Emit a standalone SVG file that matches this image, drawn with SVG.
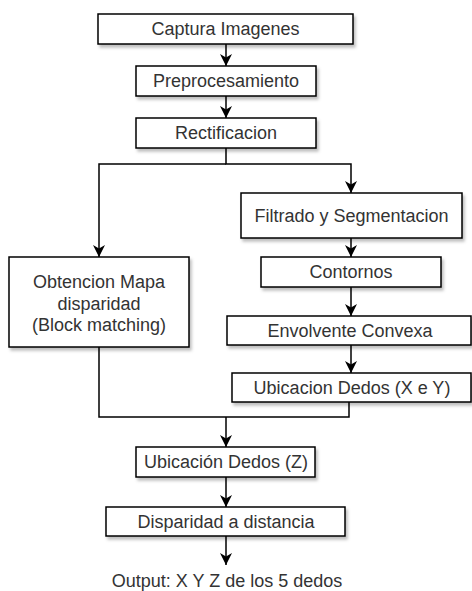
<svg xmlns="http://www.w3.org/2000/svg" width="472" height="591" viewBox="0 0 472 591">
<style>
.box{fill:#fff;stroke:#000;stroke-width:1.5;filter:url(#sh)}
.t{font-family:"Liberation Sans",Arial,sans-serif;font-size:18px;fill:#333;text-anchor:middle}
.c{fill:none;stroke:#000;stroke-width:1.5}
</style>
<defs>
<filter id="sh" x="-10%" y="-20%" width="130%" height="160%">
<feDropShadow dx="2" dy="3" stdDeviation="1.5" flood-color="#000" flood-opacity="0.25"/>
</filter>
<marker id="a" viewBox="0 0 12 12" refX="12" refY="6" markerWidth="12" markerHeight="12" markerUnits="userSpaceOnUse" orient="auto">
<path d="M0,0 L12,6 L0,12 L3.5,6 z" fill="#000"/>
</marker>
</defs>
<rect width="472" height="591" fill="#fff"/>
<g id="connectors">
<path class="c" d="M226,44 V66" marker-end="url(#a)"/>
<path class="c" d="M226,96 V118" marker-end="url(#a)"/>
<path class="c" d="M226,148 V164 H351 V193" marker-end="url(#a)"/>
<path class="c" d="M226,164 H99 V257" marker-end="url(#a)"/>
<path class="c" d="M351,238 V257" marker-end="url(#a)"/>
<path class="c" d="M351,287 V316" marker-end="url(#a)"/>
<path class="c" d="M351,345 V373" marker-end="url(#a)"/>
<path class="c" d="M99,347 V417 H349 V402"/>
<path class="c" d="M226,417 V447" marker-end="url(#a)"/>
<path class="c" d="M226,477 V507" marker-end="url(#a)"/>
<path class="c" d="M226,536 V565" marker-end="url(#a)"/>
</g>
<g id="captura"><rect class="box" x="98" y="14" width="255" height="30"/><text class="t" x="225.5" y="35">Captura Imagenes</text></g>
<g id="preprocesamiento"><rect class="box" x="136" y="66" width="180" height="30"/><text class="t" x="226" y="87">Preprocesamiento</text></g>
<g id="rectificacion"><rect class="box" x="136" y="118" width="180" height="30"/><text class="t" x="226" y="139">Rectificacion</text></g>
<g id="filtrado"><rect class="box" x="241" y="193" width="221" height="45"/><text class="t" x="351.5" y="222">Filtrado y Segmentacion</text></g>
<g id="contornos"><rect class="box" x="261" y="257" width="180" height="30"/><text class="t" x="351" y="278">Contornos</text></g>
<g id="envolvente"><rect class="box" x="227" y="316" width="244" height="29"/><text class="t" x="350" y="337">Envolvente Convexa</text></g>
<g id="ubicacionxy"><rect class="box" x="232" y="373" width="239" height="29"/><text class="t" x="352" y="394">Ubicacion Dedos (X e Y)</text></g>
<g id="obtencion"><rect class="box" x="9" y="257" width="180" height="90"/><text class="t" x="99" y="288">Obtencion Mapa</text><text class="t" x="99" y="309.5">disparidad</text><text class="t" x="99" y="331">(Block matching)</text></g>
<g id="ubicacionz"><rect class="box" x="136" y="447" width="179" height="30"/><text class="t" x="226" y="468">Ubicación Dedos (Z)</text></g>
<g id="disparidad"><rect class="box" x="106" y="507" width="239" height="29"/><text class="t" x="226" y="528">Disparidad a distancia</text></g>
<g id="output"><text class="t" x="227" y="587">Output: X Y Z de los 5 dedos</text></g>
</svg>
